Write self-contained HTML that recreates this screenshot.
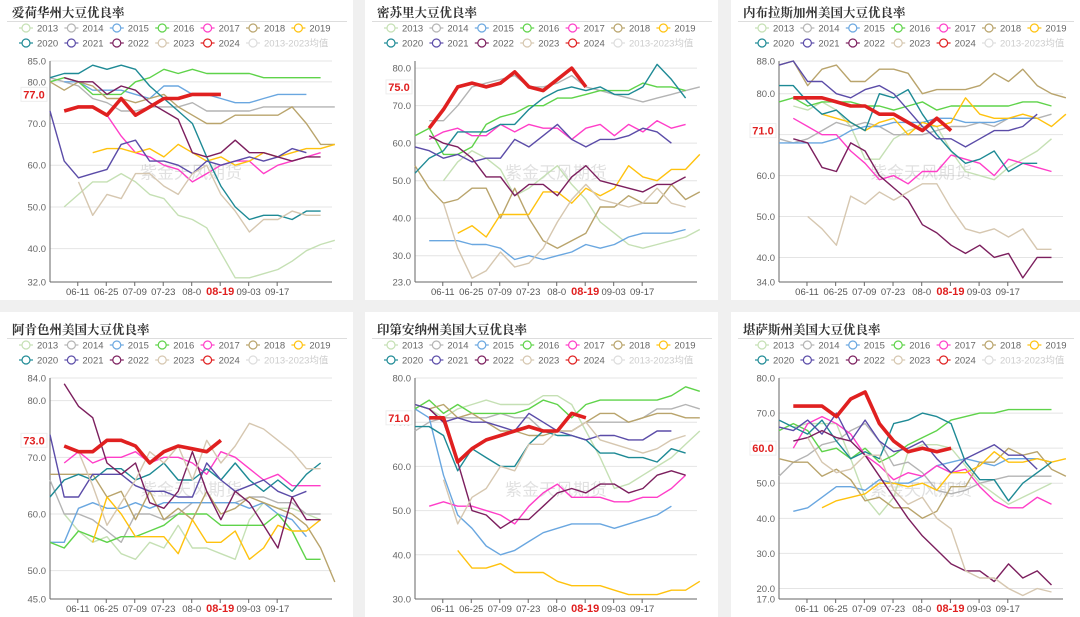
<!DOCTYPE html>
<html><head><meta charset="utf-8">
<style>
body{margin:0;width:1080px;height:617px;background:#f0f0f0;overflow:hidden;font-family:"Liberation Sans","Noto Sans CJK SC",sans-serif;}
svg{position:absolute;left:0;top:0}
</style></head>
<body>
<svg id="c" width="1080" height="617" xmlns="http://www.w3.org/2000/svg"></svg>
<script>
const years=["2013","2014","2015","2016","2017","2018","2019","2020","2021","2022","2023","2024","2013-2023均值"];
const colors=["#c5e0b4","#b4b4b4","#6aa7e0","#5fd34a","#ff3ec8","#b9a46c","#ffc20e","#1e8a95","#5b4ca8","#7c1f5e","#d6c7b0","#e02020","#dddddd"];
const xLabels=["06-11","06-25","07-09","07-23","08-0","08-19","09-03","09-17"];
const titles=["爱荷华州大豆优良率","密苏里大豆优良率","内布拉斯加州美国大豆优良率","阿肯色州美国大豆优良率","印第安纳州美国大豆优良率","堪萨斯州美国大豆优良率"];
const latest=[77,75,71,73,71,60];
const ticks1=[32,40,50,60,70,80,85];
const ticks2=[23,30,40,50,60,70,80];
const ticks3=[34,40,50,60,70,80,88];
const ticks4=[45,50,60,70,80,84];
const ticks5=[30,40,50,60,70,80];
const ticks6=[17,20,30,40,50,60,70,80];
const N=null;
// Iowa
const p1_2013=[N,50,53,56,56,58,56,53,52,48,47,45,39,33,33,34,35,37,39.5,41,42];
const p1_2014=[81,80,79,76,75,73,73,74,74,74,75,73,73,73,73,74,74,74,74,74,74];
const p1_2015=[N,80,80,78,78,78,77,76,79,79,77,77,76,75,75,76,77,77,77];
const p1_2016=[80,81,80,77,77,77,80,81,83,82,83,82,82,82,82,81,81,81,81,81];
const p1_2017=[N,N,N,74,72,67,63,62,60,59,56,58,60,61,61,58,60,61,62,63];
const p1_2018=[80,78,80,79,76,76,75,76,77,74,72,70,70,72,72,72,72,74,70,65,65];
const p1_2019=[N,N,N,63,64,64,63,64,62,65,63,61,62,60,61,63,62,63,64,64,65];
const p1_2020=[81,82,82,84,83,84,83,79,76,73,70,62,55,50,47,48,48,47,49,49];
const p1_2021=[73,61,57,58,59,65,66,61,61,60,58,61,60,61,62,61,62,64,63];
const p1_2022=[N,81,80,80,77,79,78,75,73,71,63,62,63,66,63,63,62,61,62,62];
const p1_2023=[N,N,56,48,53,52,58,58,55,53,58,60,53,49,44,47,47,49,48,48];
const p1_2024=[N,73,74,74,72,76,72,74,76,76,77,77,77];
// Missouri
const p2_2013=[N,N,50,55,58,56,53,46,48,51,54,49,45,39,36,33,32,33,34,35,37];
const p2_2014=[N,66,66,70,75,76,77,78,75,75,76,78,75,74,73,72,71,72,73,74,75];
const p2_2015=[N,34,34,34,33,33,32,29,30,29,30,31,33,32,33,35,36,36,36,37];
const p2_2016=[62,64,57,57,59,65,67,68,70,70,72,72,73,74,74,74,76,75,75,74];
const p2_2017=[N,61,63,64,62,62,65,63,65,64,64,61,64,65,62,65,63,66,64,65];
const p2_2018=[54,48,44,45,48,48,40,48,40,34,32,34,36,43,43,46,44,44,49,45,47];
const p2_2019=[N,N,N,36,38,35,41,41,41,47,47,44,48,46,48,54,51,50,53,53,57];
const p2_2020=[52,56,58,63,63,63,65,65,69,72,74,75,74,75,73,73,75,81,77,72];
const p2_2021=[59,58,56,57,55,56,56,61,59,62,65,61,59,61,61,62,64,63,60];
const p2_2022=[N,62,60,59,56,51,51,46,49,49,46,51,54,50,49,48,47,49,49,51];
const p2_2023=[N,N,44,32,24,26,31,27,28,32,39,45,49,45,44,43,44,48,44,43];
const p2_2024=[N,64,69,75,76,75,76,79,75,74,77,80,75];
// Nebraska
const p3_2013=[N,77,76,78,76,72,64,64,69,71,72,72,66,61,60,59,62,64,66,69];
const p3_2014=[69,68,69,71,73,72,73,72,70,70,70,71,72,72,73,72,74,74,74,75];
const p3_2015=[68,68,68,68,69,71,72,72,73,73,73,74,74,73,73,73,74,74,74];
const p3_2016=[78,79,77,78,78,78,77,77,76,77,78,76,77,77,77,77,77,78,78,77];
const p3_2017=[N,74,72,70,70,66,63,59,60,58,61,61,65,64,63,60,64,63,62,61];
const p3_2018=[87,88,82,86,87,83,83,86,86,85,80,81,81,81,82,85,83,86,82,80,79];
const p3_2019=[N,N,N,75,74,73,71,73,74,70,73,72,73,79,75,74,74,75,74,72,75];
const p3_2020=[82,82,78,75,76,73,71,80,79,81,75,70,66,63,64,66,61,63,63];
const p3_2021=[87,88,83,83,80,79,81,82,80,76,72,69,69,67,69,71,71,72,75];
const p3_2022=[N,69,68,62,61,68,66,60,57,54,48,46,43,41,43,40,41,35,40,40];
const p3_2023=[N,N,50,47,43,55,53,56,54,56,58,58,52,47,46,47,45,47,42,42];
const p3_2024=[N,79,79,79,78,77,77,75,75,73,71,74,71];
// Arkansas
const p4_2013=[N,60,57,55,56,53,52,55,54,58,54,54,53,52,59,62,61,61,60,59];
const p4_2014=[66,60,60,59,57,55,60,60,59,60,62,62,62,62,63,63,62,62,60,60];
const p4_2015=[55,55,61,62,61,61,62,61,62,62,62,62,62,62,61,62,60,59,56];
const p4_2016=[55,54,57,56,55,56,56,57,58,60,60,60,58,58,58,58,60,57,52,52];
const p4_2017=[N,69,71,69,70,70,71,69,70,70,69,67,71,70,68,66,67,65,65,65];
const p4_2018=[67,67,67,67,63,64,59,64,59,61,59,64,60,61,63,62,61,60,58,54,48];
const p4_2019=[N,N,N,55,63,60,56,56,56,53,59,55,55,57,52,54,58,57,57,59];
const p4_2020=[63,66,67,66,68,68,66,67,69,66,66,68,66,69,66,64,66,64,67,69];
const p4_2021=[74,63,63,67,67,67,65,64,64,63,63,69,66,64,65,66,64,63,64];
const p4_2022=[N,83,79,77,69,67,69,62,61,64,71,64,59,64,62,58,54,63,59,59];
const p4_2023=[N,N,71,65,58,62,66,71,69,72,66,73,69,72,76,75,73,71,68,68];
const p4_2024=[N,72,71,71,73,73,72,69,71,72,71.5,71,73];
// Indiana
const p5_2013=[74,73,71,73,74,75,74,74,74,76,76,74,68,62,55,56,58,60,62,65,68];
const p5_2014=[68,70,71,71,71,71,72,71,71,68,68,68,70,70,70,70,71,73,73,74,73];
const p5_2015=[73,71,58,49,46,42,40,41,43,45,46,47,47,47,46,47,48,49,51];
const p5_2016=[73,75,72,74,72,72,72,72,73,75,74,71,74,75,75,75,75,75,76,78,77];
const p5_2017=[N,51,52,51,51,50,49,47,51,54,56,53,53,53,52,52,53,53,55,58];
const p5_2018=[74,73,74,71,72,70,68,68,67,67,68,68,70,72,72,70,71,72,72,71,71];
const p5_2019=[N,N,N,41,37,37,38,36,36,36,34,33,33,33,32,31,31,31,32,32,34];
const p5_2020=[69,69,67,59,64,62,60,60,65,68,67,67,66,63,63,62,62,61,64,63];
const p5_2021=[74,73,70,71,70,70,69,68,72,70,68,67,66,67,67,66,66,68,68];
const p5_2022=[N,73,70,61,50,49,46,48,48,51,54,55,54,56,56,54,55,58,59,58];
const p5_2023=[N,N,57,47,53,55,60,59,65,65,68,68,70,66,65,64,63,64,66,67];
const p5_2024=[N,71,71,61,64,66,67,68,69,68,68,72,71];
// Kansas
const p6_2013=[N,66,67,67,67,57,46,41,46,59,61,61,60,55,50,47,44,46,48,50];
const p6_2014=[52,56,58,61,62,65,67,62,55,56,53,48,47,48,50,51,52,52,52,52];
const p6_2015=[N,42,43,46,49,49,48,51,50,50,52,55,56,57,56,55,57,57,57,56];
const p6_2016=[65,67,65,59,60,57,60,56,58,61,63,65,68,69,70,70,71,71,71,71];
const p6_2017=[N,60,67,69,67,64,58,55,51,53,52,55,53,54,49,45,43,43,46,44];
const p6_2018=[57,56,56,52,54,51,45,46,43,43,40,42,49,49,56,56,60,58,59,54,52];
const p6_2019=[N,N,N,43,45,46,47,50,50,49,50,48,53,53,55,59,56,56,57,56,57];
const p6_2020=[68,66,64,68,62,57,59,57,67,68,70,69,67,56,51,51,45,50,53,56];
const p6_2021=[66,65,68,64,70,62,68,62,59,60,62,57,53,57,59,61,58,58,54];
const p6_2022=[N,62,63,65,63,62,58,52,46,40,35,31,27,25,25,22,27,23,25,21];
const p6_2023=[N,N,63,56,53,54,58,58,48,44,46,40,37,25,23,23,20,18,20,19];
const p6_2024=[N,72,72,72,69,74,76,67,62,59,60,59,60];

const panels=[
 {cx:0,cy:0,cw:353,ch:300,left:50,right:332,ticks:ticks1,min:32,max:85,series:[p1_2013,p1_2014,p1_2015,p1_2016,p1_2017,p1_2018,p1_2019,p1_2020,p1_2021,p1_2022,p1_2023,p1_2024]},
 {cx:365,cy:0,cw:353,ch:300,left:415,right:697,ticks:ticks2,min:23,max:81.9,series:[p2_2013,p2_2014,p2_2015,p2_2016,p2_2017,p2_2018,p2_2019,p2_2020,p2_2021,p2_2022,p2_2023,p2_2024]},
 {cx:731,cy:0,cw:349,ch:300,left:779,right:1063,ticks:ticks3,min:34,max:88,series:[p3_2013,p3_2014,p3_2015,p3_2016,p3_2017,p3_2018,p3_2019,p3_2020,p3_2021,p3_2022,p3_2023,p3_2024]},
 {cx:0,cy:312,cw:353,ch:305,left:50,right:332,ticks:ticks4,min:45,max:84,series:[p4_2013,p4_2014,p4_2015,p4_2016,p4_2017,p4_2018,p4_2019,p4_2020,p4_2021,p4_2022,p4_2023,p4_2024]},
 {cx:365,cy:312,cw:353,ch:305,left:415,right:697,ticks:ticks5,min:30,max:80,series:[p5_2013,p5_2014,p5_2015,p5_2016,p5_2017,p5_2018,p5_2019,p5_2020,p5_2021,p5_2022,p5_2023,p5_2024]},
 {cx:731,cy:312,cw:349,ch:305,left:779,right:1063,ticks:ticks6,min:17,max:80,series:[p6_2013,p6_2014,p6_2015,p6_2016,p6_2017,p6_2018,p6_2019,p6_2020,p6_2021,p6_2022,p6_2023,p6_2024]}
];
const svg=document.getElementById('c');
const NS="http://www.w3.org/2000/svg";
function mk(tag,attrs,parent,text){const e=document.createElementNS(NS,tag);for(const k in attrs)e.setAttribute(k,attrs[k]);if(text!==undefined)e.textContent=text;parent.appendChild(e);return e;}
panels.forEach((p,pi)=>{
 const g=mk('g',{},svg);
 
 
 const off=pi<3?0:317;
 const top=61+off,bot=282+off;
 const step=(p.right-p.left)/19.8;
 const X=i=>p.left+i*step;
 const Y=v=>bot-(v-p.min)/(p.max-p.min)*(bot-top);
 const bg=mk('rect',{x:p.cx,y:p.cy,width:p.cw,height:p.ch,fill:'#fff'},g);
 
 
 const t=mk('text',{x:p.cx+12,y:17+off,'font-size':'12.5','font-weight':'bold',fill:'#333','font-family':'"Liberation Serif","Noto Serif CJK SC",serif'},g,titles[pi]);
 
 
 mk('line',{x1:p.cx+7,x2:p.cx+p.cw-6,y1:21.5+off,y2:21.5+off,stroke:'#ddd','stroke-width':1},g);
 years.forEach((y,k)=>{
  const row=k<7?0:1, col=k<7?k:k-7;
  const lx=p.cx+19+col*45.4+(pi%3==2?5:0), ly=28+off+row*15;
  const lg=mk('g',{},g);
  
  
  const c=k==12?'#ddd':colors[k];
  mk('line',{x1:lx,x2:lx+14,y1:ly,y2:ly,stroke:c,'stroke-width':1.2},lg);
  mk('circle',{cx:lx+7,cy:ly,r:4,fill:'#fff',stroke:c,'stroke-width':1.2},lg);
  mk('text',{x:lx+18,y:ly+3.5,'font-size':'9.5',fill:k==12?'#ccc':'#666'},lg,y);
 });
 p.ticks.forEach(v=>{
  const y=Y(v);
  mk('line',{x1:p.left,x2:p.right,y1:y,y2:y,stroke:'#e4e4e4','stroke-width':1},g);
  const tl=mk('text',{x:p.left-4,y:y+3.5,'font-size':'9.5',fill:'#666','text-anchor':'end'},g,v.toFixed(1));
  
  
 });
 mk('line',{x1:p.left,x2:p.left,y1:top,y2:bot,stroke:'#666','stroke-width':1},g);
 mk('line',{x1:p.left,x2:p.right,y1:bot,y2:bot,stroke:'#666','stroke-width':1},g);
 xLabels.forEach((l,j)=>{
  const x=X(1.95+j*2);
  mk('line',{x1:x,x2:x,y1:bot,y2:bot+4,stroke:'#666'},g);
  const red=l=="08-19";
  const xl=mk('text',{x:x,y:bot+13,'font-size':red?'11':'9.5','font-weight':red?'bold':'normal',fill:red?'#e02020':'#555','text-anchor':'middle'},g,l);
  
  
 });
 const wm=mk('text',{x:(p.left+p.right)/2,y:(top+bot)/2+7,'font-size':'17',fill:'#000','fill-opacity':'0.12','text-anchor':'middle'},g,'紫金天风期货');
 
 
 p.series.forEach((s,k)=>{
  let d='';let pen=false;
  s.forEach((v,i)=>{if(v===null||v===undefined){pen=false;return;}d+=(pen?'L':'M')+X(i).toFixed(1)+','+Y(v).toFixed(1);pen=true;});
  const path=mk('path',{d:d,fill:'none',stroke:colors[k],'stroke-width':k==11?3.6:1.4,'stroke-linejoin':'round'},g);
  
  
 });
 const ly=Y(latest[pi]);
 mk('rect',{x:p.left-29,y:ly-7,width:26,height:14,fill:'#fff',stroke:'#eee'},g);
 const lb=mk('text',{x:p.left-16,y:ly+4,'font-size':'11','font-weight':'bold',fill:'#e02020','text-anchor':'middle'},g,latest[pi].toFixed(1));
 
 
});
</script>
</body></html>
